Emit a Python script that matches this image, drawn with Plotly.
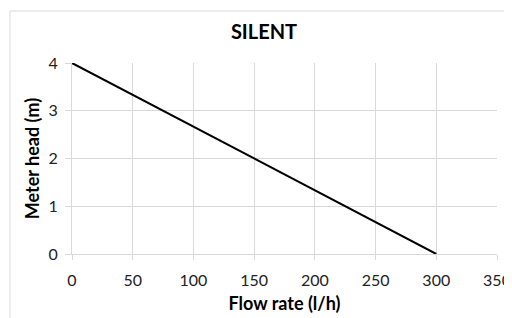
import plotly.graph_objects as go

flow_rate = [0, 300]
meter_head = [4, 0]
x_ticks = [0, 50, 100, 150, 200, 250, 300, 350]
y_ticks = [0, 1, 2, 3, 4]

# page has an 8px body margin; figure coords = page coords - 8
OFF = 8
W, H = 504, 310
L, T = 72 - OFF, 63 - OFF
R = W - (497 - OFF)
B = H - (254 - OFF)
pw, ph = W - L - R, H - T - B

def px(x):
    return (x - OFF - L) / pw

def py(y):
    return (H - B - (y - OFF)) / ph

grid = "#d9d9d9"
font = "Lato, Open Sans, sans-serif"

fig = go.Figure()
fig.add_trace(go.Scatter(x=flow_rate, y=meter_head, mode="lines",
                         line=dict(color="black", width=2), showlegend=False,
                         hoverinfo="skip"))

fig.update_layout(
    width=W, height=H,
    margin=dict(l=L, r=R, t=T, b=B, autoexpand=False),
    paper_bgcolor="white", plot_bgcolor="white",
    title=dict(text="<b>SILENT</b>", x=(264 - OFF) / W, xref="container", xanchor="center",
               y=1 - (32 - OFF) / H, yref="container", yanchor="middle",
               font=dict(family=font, size=20, color="black")),
    xaxis=dict(range=[0, 350], tickvals=x_ticks, showgrid=True, gridcolor=grid,
               gridwidth=1, zeroline=False, showline=True, linecolor=grid,
               ticks="outside", ticklen=5, tickcolor=grid, ticklabelstandoff=7,
               tickfont=dict(family=font, size=16, color="#222"),
               title=dict(text="<b>Flow rate (l/h)</b>", standoff=9,
                          font=dict(family=font, size=18, color="black"))),
    yaxis=dict(range=[0, 4], tickvals=y_ticks, showgrid=True, gridcolor=grid,
               gridwidth=1, zeroline=False, showline=True, linecolor=grid,
               ticks="outside", ticklen=6, tickcolor=grid, ticklabelstandoff=4,
               tickfont=dict(family=font, size=16, color="#222"),
               title=dict(text="<b>Meter head (m)</b>", standoff=4,
                          font=dict(family=font, size=18, color="black"))),
    shapes=[dict(type="path", xref="paper", yref="paper",
                 path=f"M {px(10)} {py(330)} L {px(10)} {py(11)} L {px(530)} {py(11)}",
                 line=dict(color=grid, width=1))],
)

fig.write_html("out.html")
